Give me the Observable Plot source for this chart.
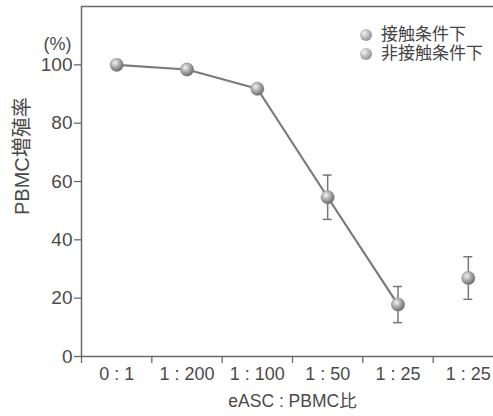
<!DOCTYPE html>
<html><head><meta charset="utf-8">
<script src="https://cdn.jsdelivr.net/npm/d3@7"></script>
<script src="https://cdn.jsdelivr.net/npm/@observablehq/plot@0.6"></script>
<style>
body{margin:0;background:#fff;}
#wrap{position:relative;width:493px;height:416px;overflow:hidden;font-family:"Liberation Sans","Noto Sans CJK JP",sans-serif;}
#legend{position:absolute;left:360px;top:25px;font-size:17px;color:#444;line-height:19px;}
#legend .row{display:flex;align-items:center;white-space:nowrap;}
#legend .ball{display:inline-block;width:12px;height:12px;border-radius:50%;margin-right:9px;background:radial-gradient(circle at 35% 35%,#f2f2f2 0%,#b5b5b5 45%,#757575 100%);}
</style>
</head><body>
<div id="wrap"><div id="legend"></div></div>
<script>
const categories = ["0 : 1", "1 : 200", "1 : 100", "1 : 50", "1 : 25", "1 : 25"];
const seriesNames = ["接触条件下", "非接触条件下"];
const contactIdx = [0, 1, 2, 3, 4];
const contactMean = [100, 98.4, 91.8, 54.6, 17.8];
const contactErr = [0, 0, 0, 7.6, 6.2];
const nonContactIdx = [5];
const nonContactMean = [26.9];
const nonContactErr = [7.3];
const yTicks = [0, 20, 40, 60, 80, 100];
const yLabel = "PBMC増殖率";
const xLabel = "eASC : PBMC比";
const unitLabel = "(%)";

const contact = contactIdx.map((i, k) => ({i, mean: contactMean[k], err: contactErr[k]}));
const nonContact = nonContactIdx.map((i, k) => ({i, mean: nonContactMean[k], err: nonContactErr[k]}));
const all = contact.concat(nonContact);
const withErr = all.filter(d => d.err > 0);
const catIdx = categories.map((c, i) => i);
const bounds = [-0.5].concat(catIdx.map(i => i + 0.5));
const font = "'Liberation Sans','Noto Sans CJK JP',sans-serif";
const axisColor = "#6a6a6a";
const textColor = "#4a4a4a";

const plot = Plot.plot({
  width: 493,
  height: 416,
  marginLeft: 81,
  marginRight: 0,
  marginTop: 6,
  marginBottom: 60,
  style: {fontFamily: font, color: textColor, background: "white", overflow: "visible"},
  x: {type: "linear", domain: [-0.5, categories.length - 0.5], range: [81, 503]},
  y: {domain: [0, 120]},
  marks: [
    Plot.ruleY([120], {stroke: axisColor, strokeWidth: 1.5}),
    Plot.ruleX([-0.5], {stroke: axisColor, strokeWidth: 1.5}),
    Plot.ruleY([0], {stroke: axisColor, strokeWidth: 1.5}),
    Plot.axisY({ticks: yTicks, tickSize: 7, tickPadding: 2, fontSize: 19, stroke: axisColor, strokeWidth: 1.3, label: null}),
    Plot.axisX({ticks: bounds, tickSize: 7, tickFormat: () => "", stroke: axisColor, strokeWidth: 1.3, label: null}),
    Plot.axisX({ticks: catIdx, tickSize: 0, tickPadding: 11, fontSize: 18, tickFormat: i => categories[i], label: null}),
    Plot.text([unitLabel], {x: -0.5, y: 107, dx: -10, textAnchor: "end", fontSize: 18, fill: textColor}),
    Plot.text([yLabel], {frameAnchor: "left", y: 48.5, dx: -59, rotate: -90, fontSize: 20, fill: textColor}),
    Plot.text([xLabel], {frameAnchor: "bottom", x: (categories.length - 1) / 2, dy: 50, fontSize: 17.5, fill: textColor}),
    Plot.line(contact, {x: "i", y: "mean", stroke: "#7a7a7a", strokeWidth: 2.2}),
    Plot.ruleX(withErr, {x: "i", y1: d => d.mean - d.err, y2: d => d.mean + d.err, stroke: "#777", strokeWidth: 1.5}),
    Plot.ruleY(withErr, {y: d => d.mean + d.err, x1: "i", x2: "i", insetLeft: -4.5, insetRight: -4.5, stroke: "#777", strokeWidth: 1.5}),
    Plot.ruleY(withErr, {y: d => d.mean - d.err, x1: "i", x2: "i", insetLeft: -4.5, insetRight: -4.5, stroke: "#777", strokeWidth: 1.5}),
    Plot.dot(all, {x: "i", y: "mean", r: 6.7, fill: "url(#ballGrad)", stroke: "#8a8a8a", strokeWidth: 0.4})
  ]
});

d3.select(plot).insert("defs", ":first-child").html(
  '<radialGradient id="ballGrad" cx="38%" cy="35%" r="65%">' +
  '<stop offset="0%" stop-color="#f4f4f4"/>' +
  '<stop offset="45%" stop-color="#b3b3b3"/>' +
  '<stop offset="100%" stop-color="#6c6c6c"/>' +
  '</radialGradient>');

document.getElementById("wrap").prepend(plot);
const legend = document.getElementById("legend");
seriesNames.forEach(n => {
  const row = document.createElement("div");
  row.className = "row";
  row.innerHTML = '<span class="ball"></span><span></span>';
  row.lastChild.textContent = n;
  legend.appendChild(row);
});
</script>
</body></html>
